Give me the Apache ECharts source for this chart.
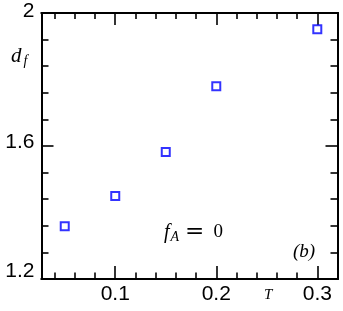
<!DOCTYPE html>
<html>
<head>
<meta charset="utf-8">
<script src="https://cdn.jsdelivr.net/npm/echarts@6/dist/echarts.min.js"></script>
<style>html,body{margin:0;padding:0;background:#fff}#c{width:343px;height:311px}</style>
</head>
<body>
<div id="c"></div>
<script>
const T = [0.05, 0.10, 0.15, 0.20, 0.30];
const df = [1.359, 1.450, 1.582, 1.780, 1.951];
const xMajor = [0.1, 0.2, 0.3];
const xMinor = [0.04, 0.06, 0.08, 0.12, 0.14, 0.16, 0.18, 0.22, 0.24, 0.26, 0.28, 0.32];
const yMajor = [1.2, 1.6, 2.0];
const yMinor = [1.28, 1.36, 1.44, 1.52, 1.68, 1.76, 1.84, 1.92];
const xRange = [0.027, 0.32];
const yRange = [1.2, 2.0];

const chart = echarts.init(document.getElementById('c'));
const lineStyle = {color: '#000', width: 2};
const lblFont = {fontSize: 21, fontFamily: 'Liberation Sans', color: '#000'};
function xAx(pos, ticks, len, labels) {
  return {
    type: 'value', position: pos, min: xRange[0], max: xRange[1],
    axisLine: {show: true, onZero: false, lineStyle},
    axisTick: {show: true, inside: true, length: len, customValues: ticks, lineStyle: {color: '#000', width: 1.6}},
    axisLabel: labels ? Object.assign({show: true, customValues: xMajor, margin: 5, formatter: v => v.toFixed(1)}, lblFont) : {show: false},
    splitLine: {show: false}
  };
}
function yAx(pos, ticks, len, labels) {
  return {
    type: 'value', position: pos, min: yRange[0], max: yRange[1],
    axisLine: {show: true, onZero: false, lineStyle},
    axisTick: {show: true, inside: true, length: len, customValues: ticks, lineStyle: {color: '#000', width: 1.6}},
    axisLabel: labels ? Object.assign({show: true, customValues: yMajor, margin: 7,
      formatter: v => Math.abs(v - 1.2) < 1e-6 ? '{lo|1.2}' : (Math.abs(v - 2) < 1e-6 ? '{hi|2}' : '{mid|' + v.toFixed(1) + '}'),
      rich: {
        lo: Object.assign({padding: [0, 0, 15, 0]}, lblFont),
        mid: Object.assign({padding: [0, 0, 8, 0]}, lblFont),
        hi: Object.assign({padding: [0, 0, 4, 0]}, lblFont)
      }
    }, lblFont) : {show: false},
    splitLine: {show: false}
  };
}
const ser = (sz) => 'italic ' + sz + 'px "Liberation Serif"';
chart.setOption({
  animation: false,
  grid: {left: 41.5, right: 5.5, top: 13, bottom: 32},
  xAxis: [
    xAx('bottom', xMajor, 13, true),
    xAx('bottom', xMinor, 6.5, false),
    xAx('top', xMajor, 12, false),
    xAx('top', xMinor, 6, false)
  ],
  yAxis: [
    yAx('left', yMajor, 12, true),
    yAx('left', yMinor, 7, false),
    yAx('right', yMajor, 12, false),
    yAx('right', yMinor, 7, false)
  ],
  series: [{
    type: 'scatter', xAxisIndex: 0, yAxisIndex: 0,
    data: T.map((t, i) => [t, df[i]]),
    symbol: 'rect', symbolSize: 8,
    itemStyle: {color: 'rgba(0,0,0,0)', borderColor: '#0000ff', borderWidth: 2}
  }],
  graphic: [
    {type: 'text', left: 11, top: 46, style: {text: '{d|d}{s|f}', font: ser(21), fill: '#000', rich: {
      d: {font: ser(21), fill: '#000'},
      s: {font: ser(14), fill: '#000', padding: [9, 0, 0, 2]}}}},
    {type: 'text', left: 264, top: 288, style: {text: 'T', font: ser(15), fill: '#000'}},
    {type: 'text', left: 164, top: 221, style: {text: '{f|f}{s|A}{e|=}{z|0}', font: ser(20), fill: '#000', rich: {
      f: {font: ser(20), fill: '#000'},
      s: {font: ser(14), fill: '#000', padding: [9, 0, 0, 1]},
      e: {font: '23px "DejaVu Serif"', fill: '#000', padding: [0, 9, 0, 6]},
      z: {font: '19px "Liberation Serif"', fill: '#000'}}}},
    {type: 'text', left: 293, top: 242, style: {text: '(b)', font: ser(19), fill: '#000'}}
  ]
});
</script>
</body>
</html>
